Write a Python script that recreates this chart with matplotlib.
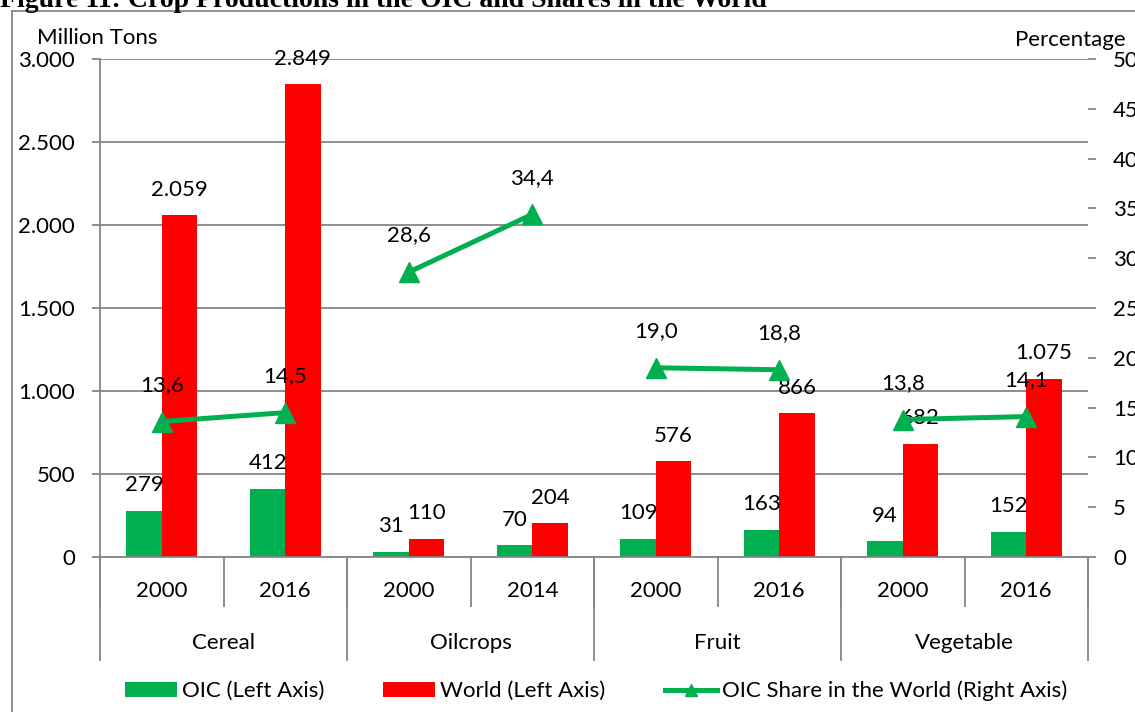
import matplotlib
matplotlib.use("Agg")
import matplotlib.pyplot as plt
import matplotlib.transforms as mtransforms
from matplotlib.lines import Line2D
from matplotlib.patches import Patch
import numpy as np

# ---- data ----
groups = ["Cereal", "Oilcrops", "Fruit", "Vegetable"]
years = ["2000", "2016", "2000", "2014", "2000", "2016", "2000", "2016"]
oic = [279, 412, 31, 70, 109, 163, 94, 152]
world = [2059, 2849, 110, 204, 576, 866, 682, 1075]
share = [13.6, 14.5, 28.6, 34.4, 19.0, 18.8, 13.8, 14.1]
left_ticks = [0, 500, 1000, 1500, 2000, 2500, 3000]
right_ticks = [0, 5, 10, 15, 20, 25, 30, 35, 40, 45, 50]
title = "Figure 11: Crop Productions in the OIC and Shares in the World"

GREEN = "#00B050"
RED = "#FF0000"
GREY = "#868686"
FONT = "Lato"
FS = 16

plt.rcParams["font.family"] = [FONT, "DejaVu Sans"]

W, H = 1135, 712
fig = plt.figure(figsize=(W / 100, H / 100), dpi=100)

# figure frame and clipped title
fig.add_artist(Line2D([12 / W, 12 / W], [-0.1, 1 - 11 / H], color=GREY, lw=1.3, transform=fig.transFigure))
fig.add_artist(Line2D([12 / W, 1.1], [1 - 11 / H, 1 - 11 / H], color=GREY, lw=1.3, transform=fig.transFigure))
fig.text(0 / W, 1 - 7 / H, title, family=["Liberation Serif"], fontweight="bold", fontsize=20,
         va="baseline", ha="left")

ax = fig.add_axes([100 / W, (H - 557) / H, (1088 - 100) / W, (557 - 59) / H])
ax2 = ax.twinx()

n = len(oic)
x = np.arange(n) + 0.5
bw = 0.286

ax.bar(x - bw / 2, oic, width=bw, color=GREEN, zorder=2)
ax.bar(x + bw / 2, world, width=bw, color=RED, zorder=2)

ax.set_xlim(0, n)
ax.set_ylim(0, 3000)
ax.set_yticks(left_ticks)
ax.set_yticklabels([f"{v:,}".replace(",", ".") for v in left_ticks])
ax.yaxis.grid(True, color=GREY, lw=1.3, zorder=0)
ax.set_axisbelow(True)

for s in ["top", "right"]:
    ax.spines[s].set_visible(False)
    ax2.spines[s].set_visible(False)
ax2.spines["left"].set_visible(False)
ax2.spines["bottom"].set_visible(False)
ax.spines["left"].set_color(GREY)
ax.spines["left"].set_linewidth(1.3)
ax.spines["bottom"].set_color(GREY)
ax.spines["bottom"].set_linewidth(1.3)
ax2.spines["right"].set_color(GREY)
ax2.spines["right"].set_linewidth(1.3)

ax.tick_params(axis="y", direction="out", length=6, width=1.3, color=GREY, pad=12, labelsize=FS)
ax2.set_ylim(0, 50)
ax2.set_yticks(right_ticks)
ax2.tick_params(axis="y", direction="out", length=6, width=1.3, color=GREY, pad=12, labelsize=FS)

# x axis: slot boundaries as ticks, labels as text
ax.set_xticks(np.arange(0, n + 1))
ax.set_xticklabels([])
ax.tick_params(axis="x", direction="out", length=36, width=1.3, color=GREY)
trans = mtransforms.blended_transform_factory(ax.transData, ax.transAxes)
for i, yr in enumerate(years):
    ax.text(x[i], -0.068, yr, transform=trans, ha="center", va="center", fontsize=FS)
ng = len(groups)
per = n // ng
for g, name in enumerate(groups):
    ax.text(g * per + per / 2, -0.172, name, transform=trans, ha="center", va="center", fontsize=FS)
for g in range(ng + 1):
    ax.plot([g * per, g * per], [0, -0.207], transform=trans, color=GREY, lw=1.3, clip_on=False)

# share line per group
for g in range(ng):
    sl = slice(g * per, (g + 1) * per)
    ax2.plot(x[sl], share[sl], color=GREEN, lw=3.6, marker="^", markersize=14,
             solid_capstyle="butt", zorder=5)

# labels
for i in range(n):
    ax.annotate(f"{oic[i]:,}".replace(",", "."), (x[i] - bw / 2, oic[i]), xytext=(0, 14),
                textcoords="offset points", ha="center", va="baseline", fontsize=FS, zorder=6)
    ax.annotate(f"{world[i]:,}".replace(",", "."), (x[i] + bw / 2, world[i]), xytext=(0, 14),
                textcoords="offset points", ha="center", va="baseline", fontsize=FS, zorder=6)
    ax2.annotate(f"{share[i]:.1f}".replace(".", ","), (x[i], share[i]), xytext=(0, 22),
                 textcoords="offset points", ha="center", va="baseline", fontsize=FS, zorder=6)

# axis titles
fig.text(37 / W, 1 - 38 / H, "Million Tons", ha="left", va="center", fontsize=FS)
fig.text(1015 / W, 1 - 40 / H, "Percentage", ha="left", va="center", fontsize=FS)

# legend
fs_px = FS * 100 / 72
handles = [Patch(facecolor=GREEN), Patch(facecolor=RED),
           Line2D([], [], color=GREEN, lw=3.6, marker="^", markersize=9)]
labels = ["OIC (Left Axis)", "World (Left Axis)", "OIC Share in the World (Right Axis)"]
fig.legend(handles, labels, loc="center left", bbox_to_anchor=(125 / W, 1 - 691 / H), ncol=3,
           frameon=False, fontsize=FS, handlelength=52 / fs_px, handleheight=14 / fs_px,
           handletextpad=5 / fs_px, columnspacing=59 / fs_px, borderpad=0, borderaxespad=0)

fig.savefig("out.png", dpi=100)
